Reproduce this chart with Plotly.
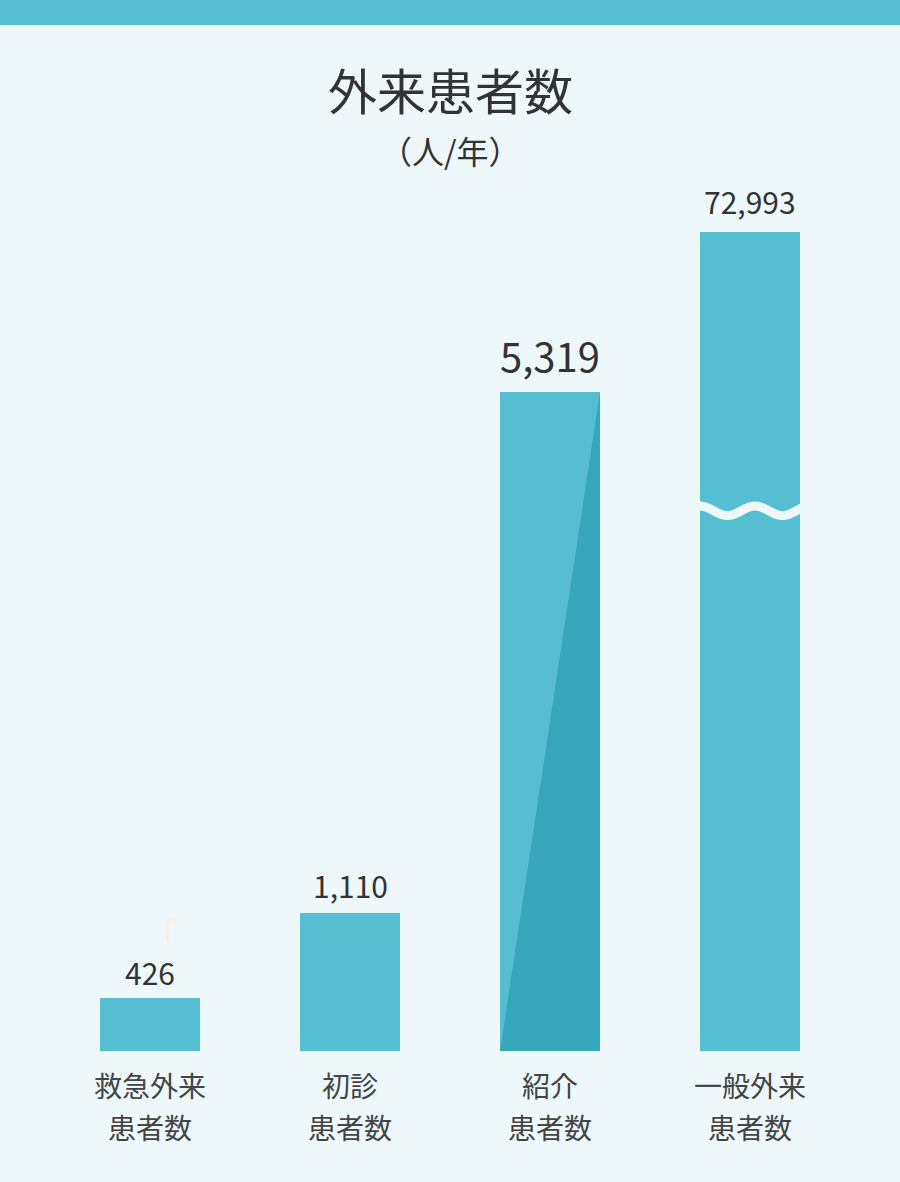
import numpy as np
import plotly.graph_objects as go

# ---- data ----
categories = ["救急外来患者数", "初診患者数", "紹介患者数", "一般外来患者数"]
label_line1 = ["救急外来", "初診", "紹介", "一般外来"]
label_line2 = ["患者数", "患者数", "患者数", "患者数"]
values = [426, 1110, 5319, 72993]
value_labels = ["426", "1,110", "5,319", "72,993"]
# displayed height (broken axis for the last bar)
display_values = [426, 1110, 5319, 6610]
title_text = "外来患者数"
unit_text = "（人/年）"

BG = "#EEF8FA"
BAR = "#55BFD1"
DARK = "#36A6BA"
TXT = "#333333"
FONT = "Noto Sans CJK JP"
H = 1182

xs = list(range(len(categories)))
bar_w = 0.5


def py(p):
    return 1 - p / H


fig = go.Figure()
fig.add_trace(go.Bar(x=xs, y=display_values, width=bar_w, marker=dict(color=BAR, line=dict(width=0)),
                     hoverinfo="skip", showlegend=False))

# darker diagonal half on the 紹介 bar
i = 2
fig.add_trace(go.Scatter(
    x=[xs[i] - bar_w / 2, xs[i] + bar_w / 2, xs[i] + bar_w / 2, xs[i] - bar_w / 2],
    y=[0, display_values[i], 0, 0],
    fill="toself", fillcolor=DARK, line=dict(width=0), mode="lines",
    hoverinfo="skip", showlegend=False))

# wavy break on the last bar
j = 3
wx = np.linspace(xs[j] - bar_w / 2 - 0.01, xs[j] + bar_w / 2 + 0.01, 200)
brk = 4360
amp = 38
wy = brk + amp * np.cos((wx - (xs[j] - bar_w / 2)) / 0.275 * 2 * np.pi)
fig.add_trace(go.Scatter(x=wx, y=wy, mode="lines", line=dict(color=BG, width=9, simplify=False),
                         hoverinfo="skip", showlegend=False))

annotations = []
sizes = [30, 30, 40, 30]
shifts = [2, 4, 6, 7]
for k in xs:
    annotations.append(dict(x=xs[k], y=display_values[k], xref="x", yref="y", text=value_labels[k],
                            showarrow=False, yanchor="bottom", yshift=shifts[k],
                            font=dict(family=FONT, size=sizes[k], color=TXT)))
    annotations.append(dict(x=xs[k], y=py(1085), xref="x", yref="paper", text=label_line1[k],
                            showarrow=False, yanchor="middle",
                            font=dict(family=FONT, size=28, color="#444444")))
    annotations.append(dict(x=xs[k], y=py(1127), xref="x", yref="paper", text=label_line2[k],
                            showarrow=False, yanchor="middle",
                            font=dict(family=FONT, size=28, color="#444444")))

annotations.append(dict(x=0.5, y=py(88), xref="paper", yref="paper", text=title_text,
                        showarrow=False, yanchor="middle",
                        font=dict(family=FONT, size=49, color=TXT)))
annotations.append(dict(x=0.5, y=py(150), xref="paper", yref="paper", text=unit_text,
                        showarrow=False, yanchor="middle",
                        font=dict(family=FONT, size=32, color=TXT)))
annotations.append(dict(x=143 / 900, y=py(933), xref="paper", yref="paper", text="「",
                        showarrow=False, yanchor="middle", height=30, valign="middle",
                        font=dict(family=FONT, size=34, color="#FBEFDD")))

fig.update_layout(
    width=900, height=H,
    margin=dict(l=0, r=0, t=0, b=0),
    paper_bgcolor=BG, plot_bgcolor=BG,
    xaxis=dict(range=[-0.75, 3.75], visible=False, fixedrange=True),
    yaxis=dict(range=[-131 / 0.1239, 1051 / 0.1239], visible=False, fixedrange=True),
    bargap=0,
    annotations=annotations,
    shapes=[dict(type="rect", xref="paper", yref="paper", x0=0, x1=1, y0=py(25), y1=1.0,
                 fillcolor=BAR, line=dict(width=0), layer="above")],
)

fig.write_html("out.html", config={"displayModeBar": False},
               post_script="document.body.style.margin='0';")
